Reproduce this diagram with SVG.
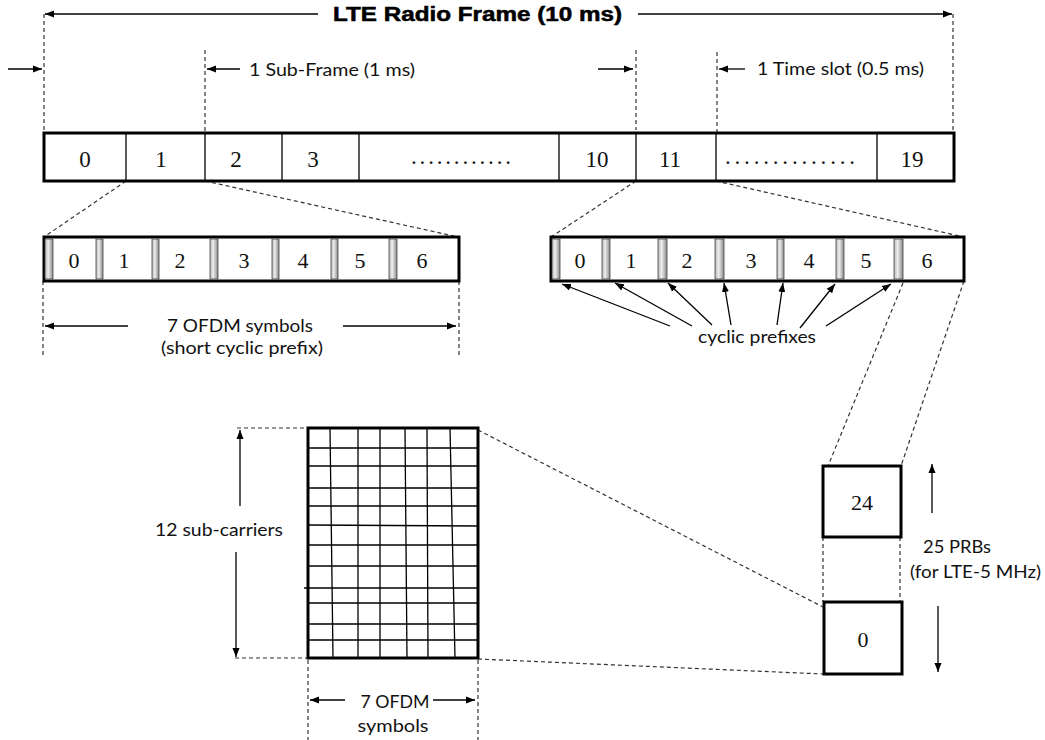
<svg xmlns="http://www.w3.org/2000/svg" width="1045" height="740" viewBox="0 0 1045 740">
<defs>
<marker id="ah" markerWidth="10" markerHeight="8" refX="9" refY="4" orient="auto-start-reverse" markerUnits="userSpaceOnUse">
<path d="M0,0.5 L9,4 L0,7.5 z" fill="#000"/>
</marker>
<linearGradient id="cp" x1="0" y1="0" x2="1" y2="0">
<stop offset="0" stop-color="#b5b5b5"/>
<stop offset="0.4" stop-color="#eeeeee"/>
<stop offset="1" stop-color="#888888"/>
</linearGradient>
<style>
.thick{fill:#fff;stroke:#000;stroke-width:3}
.div{stroke:#000;stroke-width:1.3}
.dash{stroke:#333;stroke-width:1.2;stroke-dasharray:4 3;fill:none}
.arr{stroke:#000;stroke-width:1.3;fill:none;marker-end:url(#ah)}
.cpb{fill:url(#cp);stroke:#444;stroke-width:0.8}
.num{font-family:"Liberation Serif","Times New Roman",serif;fill:#111;text-anchor:middle}
.cal{font-family:"Lato","Open Sans","Liberation Sans",sans-serif;font-size:17px;fill:#111}
.grid{stroke:#000;stroke-width:1.3}
</style>
</defs>
<rect width="1045" height="740" fill="#fff"/>

<g id="title">
<text x="333" y="21" font-family="'Liberation Sans',Arial,sans-serif" font-weight="bold" font-size="19.5" textLength="289" lengthAdjust="spacingAndGlyphs" fill="#000" stroke="#000" stroke-width="0.5">LTE Radio Frame (10 ms)</text>
</g>

<g id="connectors">
<line class="arr" x1="318" y1="14" x2="45" y2="14"/>
<line class="arr" x1="638" y1="14" x2="952" y2="14"/>
<line class="dash" x1="44" y1="14" x2="44" y2="133"/>
<line class="dash" x1="953" y1="14" x2="953" y2="133"/>
<line class="arr" x1="8" y1="69" x2="42" y2="69"/>
<line class="dash" x1="205" y1="50" x2="205" y2="132"/>
<line class="arr" x1="240" y1="69" x2="207" y2="69"/>
<line class="arr" x1="598" y1="69" x2="633" y2="69"/>
<line class="dash" x1="636" y1="50" x2="636" y2="130"/>
<line class="dash" x1="717" y1="52" x2="717" y2="133"/>
<line class="arr" x1="745" y1="69" x2="719" y2="69"/>
<line class="dash" x1="126" y1="181" x2="44" y2="237"/>
<line class="dash" x1="205" y1="181" x2="458" y2="237"/>
<line class="dash" x1="636" y1="181" x2="551" y2="237"/>
<line class="dash" x1="716" y1="181" x2="964" y2="237"/>
<line class="dash" x1="43" y1="281" x2="43" y2="358"/>
<line class="dash" x1="459" y1="281" x2="459" y2="355"/>
<line class="arr" x1="128" y1="326" x2="45" y2="326"/>
<line class="arr" x1="343" y1="326" x2="456" y2="326"/>
<line class="arr" x1="670" y1="326" x2="562" y2="284"/>
<line class="arr" x1="692" y1="326" x2="615" y2="283"/>
<line class="arr" x1="712" y1="325" x2="668" y2="283"/>
<line class="arr" x1="731" y1="325" x2="724" y2="283"/>
<line class="arr" x1="777" y1="325" x2="783" y2="283"/>
<line class="arr" x1="800" y1="328" x2="835" y2="284"/>
<line class="arr" x1="826" y1="326" x2="891" y2="284"/>
<line class="dash" x1="903" y1="283" x2="828" y2="466"/>
<line class="dash" x1="964" y1="281" x2="901" y2="466"/>
<line class="dash" x1="823" y1="537" x2="823" y2="602"/>
<line class="dash" x1="900" y1="537" x2="900" y2="602"/>
<line class="arr" x1="932" y1="513" x2="932" y2="464"/>
<line class="arr" x1="938" y1="606" x2="938" y2="672"/>
<line class="dash" x1="478" y1="430" x2="823" y2="607"/>
<line class="dash" x1="478" y1="659" x2="823" y2="674"/>
<line class="dash" x1="237" y1="428" x2="308" y2="428"/>
<line class="dash" x1="235" y1="658" x2="308" y2="658"/>
<line class="arr" x1="240" y1="506" x2="240" y2="430"/>
<line class="arr" x1="236" y1="552" x2="236" y2="657"/>
<line class="dash" x1="308" y1="660" x2="308" y2="740"/>
<line class="dash" x1="478" y1="660" x2="478" y2="740"/>
<line class="arr" x1="345" y1="700" x2="310" y2="700"/>
<line class="arr" x1="433" y1="700" x2="475" y2="700"/>
</g>

<g id="frame">
<rect class="thick" x="44" y="133" width="910" height="48"/>
<line class="div" x1="126" y1="133" x2="126" y2="181"/>
<line class="div" x1="205" y1="133" x2="205" y2="181"/>
<line class="div" x1="282" y1="133" x2="282" y2="181"/>
<line class="div" x1="359" y1="133" x2="359" y2="181"/>
<line class="div" x1="559" y1="133" x2="559" y2="181"/>
<line class="div" x1="636" y1="133" x2="636" y2="181"/>
<line class="div" x1="716" y1="133" x2="716" y2="181"/>
<line class="div" x1="877" y1="133" x2="877" y2="181"/>
<g class="num" font-size="23">
<text x="85" y="167">0</text>
<text x="161" y="167">1</text>
<text x="236" y="167">2</text>
<text x="313" y="167">3</text>
<text x="411" y="164" text-anchor="start" textLength="100" lengthAdjust="spacing">............</text>
<text x="597" y="167">10</text>
<text x="670" y="167">11</text>
<text x="725" y="164" text-anchor="start" textLength="130" lengthAdjust="spacing">..............</text>
<text x="912" y="167">19</text>
</g>
</g>

<g id="subframe-left">
<rect class="thick" x="44" y="237" width="415" height="44"/>
<rect class="cpb" x="45" y="239" width="8" height="40"/>
<rect class="cpb" x="96" y="239" width="7" height="40"/>
<rect class="cpb" x="152" y="239" width="7" height="40"/>
<rect class="cpb" x="210" y="239" width="8" height="40"/>
<rect class="cpb" x="272" y="239" width="7" height="40"/>
<rect class="cpb" x="331" y="239" width="7" height="40"/>
<rect class="cpb" x="389" y="239" width="8" height="40"/>
<g class="num" font-size="22">
<text x="74" y="268">0</text>
<text x="124" y="268">1</text>
<text x="180" y="268">2</text>
<text x="244" y="268">3</text>
<text x="303" y="268">4</text>
<text x="360" y="268">5</text>
<text x="422" y="268">6</text>
</g>
<text class="cal" x="240" y="332" text-anchor="middle" textLength="146" lengthAdjust="spacingAndGlyphs">7 OFDM symbols</text>
<text class="cal" x="242" y="354" text-anchor="middle" textLength="162" lengthAdjust="spacingAndGlyphs">(short cyclic prefix)</text>
</g>

<g id="subframe-right">
<rect class="thick" x="551" y="237" width="413" height="44"/>
<rect class="cpb" x="552" y="239" width="8" height="40"/>
<rect class="cpb" x="602" y="239" width="8" height="40"/>
<rect class="cpb" x="658" y="239" width="9" height="40"/>
<rect class="cpb" x="715" y="239" width="9" height="40"/>
<rect class="cpb" x="777" y="239" width="7" height="40"/>
<rect class="cpb" x="836" y="239" width="8" height="40"/>
<rect class="cpb" x="894" y="239" width="9" height="40"/>
<g class="num" font-size="22">
<text x="580" y="268">0</text>
<text x="631" y="268">1</text>
<text x="687" y="268">2</text>
<text x="751" y="268">3</text>
<text x="809" y="268">4</text>
<text x="866" y="268">5</text>
<text x="927" y="268">6</text>
</g>
<text class="cal" x="757" y="343" text-anchor="middle" textLength="118" lengthAdjust="spacingAndGlyphs">cyclic prefixes</text>
</g>

<g id="time-labels">
<text class="cal" x="249" y="76" textLength="166" lengthAdjust="spacingAndGlyphs">1 Sub-Frame (1 ms)</text>
<text class="cal" x="757" y="75" textLength="167" lengthAdjust="spacingAndGlyphs">1 Time slot (0.5 ms)</text>
</g>

<g id="resource-block">
<rect x="308" y="428" width="170" height="230" fill="#fff" stroke="none"/>
<g class="grid">
<line x1="330" y1="428" x2="333" y2="658"/>
<line x1="358" y1="428" x2="358" y2="658"/>
<line x1="380" y1="428" x2="380" y2="658"/>
<line x1="405" y1="428" x2="407" y2="658"/>
<line x1="427" y1="428" x2="428" y2="658"/>
<line x1="450" y1="428" x2="455" y2="658"/>
<line x1="308" y1="448" x2="478" y2="448"/>
<line x1="308" y1="466" x2="478" y2="466"/>
<line x1="308" y1="488" x2="478" y2="488"/>
<line x1="308" y1="506" x2="478" y2="506"/>
<line x1="308" y1="525" x2="478" y2="526"/>
<line x1="308" y1="545" x2="478" y2="545"/>
<line x1="308" y1="566" x2="478" y2="566"/>
<line x1="304" y1="588" x2="478" y2="588"/>
<line x1="308" y1="603" x2="478" y2="603"/>
<line x1="308" y1="624" x2="478" y2="624"/>
<line x1="308" y1="640" x2="478" y2="640"/>
</g>
<rect x="308" y="428" width="170" height="230" fill="none" stroke="#000" stroke-width="3"/>
<text class="cal" x="155" y="536" textLength="128" lengthAdjust="spacingAndGlyphs">12 sub-carriers</text>
<text class="cal" x="395" y="708" text-anchor="middle" textLength="69" lengthAdjust="spacingAndGlyphs">7 OFDM</text>
<text class="cal" x="393" y="732" text-anchor="middle" textLength="71" lengthAdjust="spacingAndGlyphs">symbols</text>
</g>

<g id="prb-24">
<rect class="thick" x="823" y="466" width="78" height="71"/>
<text class="num" font-size="22" x="862" y="510">24</text>
</g>

<g id="prb-0">
<rect class="thick" x="824" y="602" width="78" height="72"/>
<text class="num" font-size="22" x="863" y="647">0</text>
</g>

<g id="prb-label">
<text class="cal" x="923" y="553" textLength="68" lengthAdjust="spacingAndGlyphs">25 PRBs</text>
<text class="cal" x="910" y="578" textLength="131" lengthAdjust="spacingAndGlyphs">(for LTE-5 MHz)</text>
</g>
</svg>
